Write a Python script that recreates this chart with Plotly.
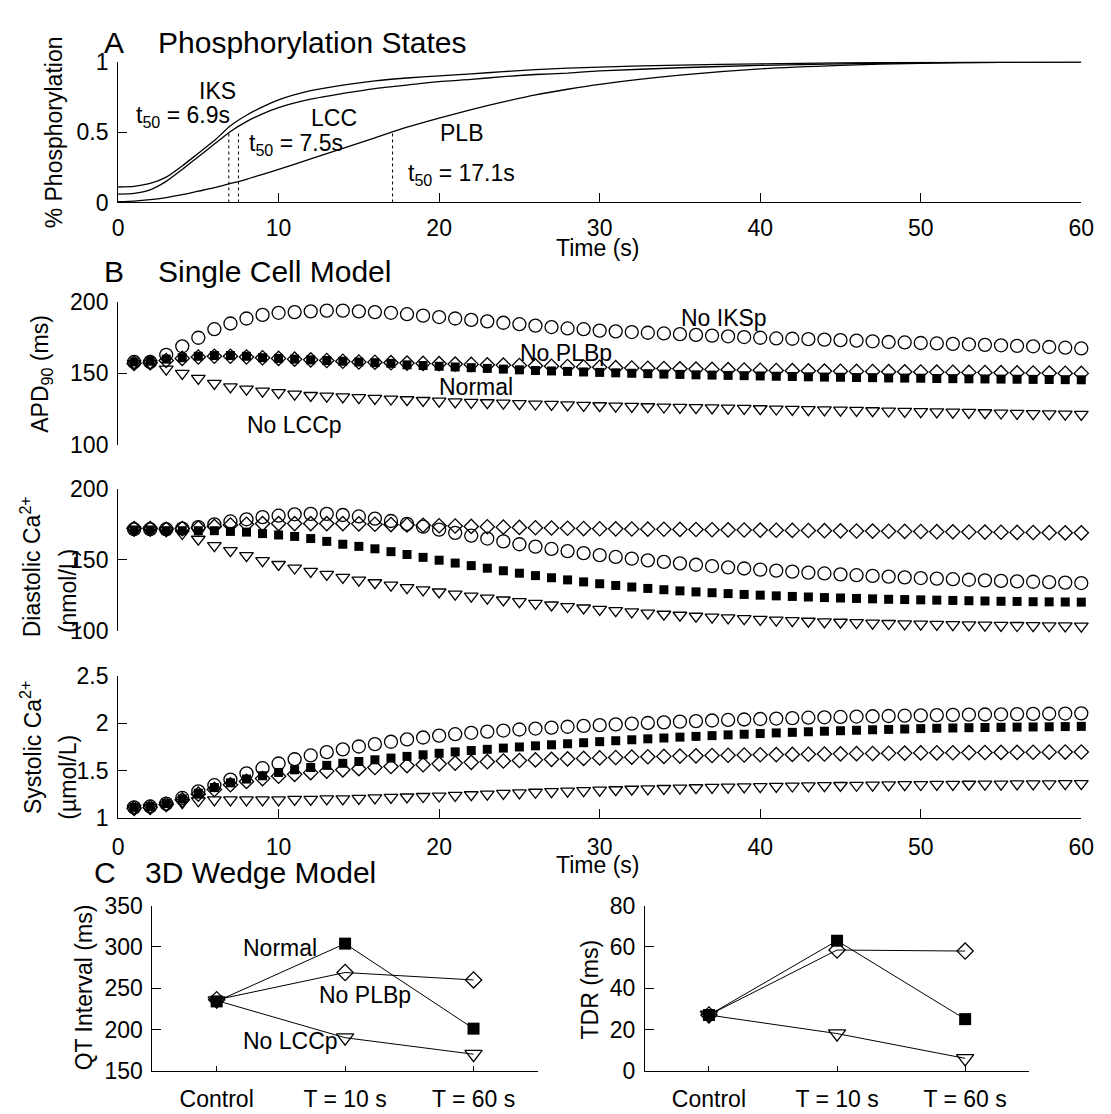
import plotly.graph_objects as go

W, H = 1111, 1114
FONT = "Liberation Sans, Arial, Helvetica, sans-serif"

# ---------------- Panel A: phosphorylation time courses ----------------
phos_t = [0, 1, 2, 3, 4, 5, 6, 7, 8, 9, 10, 12, 14, 16, 18, 20, 22, 24, 26, 28,
          30, 35, 40, 45, 50, 55, 60]
phos_iks = [0.11, 0.115, 0.135, 0.18, 0.26, 0.35, 0.44, 0.545, 0.62, 0.68, 0.73,
            0.795, 0.835, 0.865, 0.885, 0.90, 0.915, 0.93, 0.945, 0.955, 0.963,
            0.977, 0.986, 0.992, 0.996, 0.998, 1.0]
phos_lcc = [0.06, 0.065, 0.09, 0.15, 0.235, 0.325, 0.415, 0.505, 0.575, 0.63, 0.675,
            0.735, 0.775, 0.81, 0.835, 0.86, 0.875, 0.895, 0.91, 0.92, 0.935,
            0.958, 0.975, 0.986, 0.993, 0.997, 1.0]
phos_plb = [0.005, 0.01, 0.02, 0.035, 0.055, 0.08, 0.105, 0.135, 0.165, 0.2, 0.235,
            0.31, 0.385, 0.46, 0.535, 0.60, 0.66, 0.715, 0.765, 0.805, 0.84,
            0.905, 0.95, 0.975, 0.99, 0.997, 1.0]
t50_values = [6.9, 7.5, 17.1]
t50_level = 0.5

# ---------------- Panel B: single cell model, one beat per second ----------------
beat_t = list(range(1, 61))

apd_noiks = [158, 158, 163, 169, 175, 181, 185, 188.5, 191, 192.5, 193, 193.5, 194, 194,
             193.5, 193, 192.5, 191.5, 190.5, 189.5, 188.5, 187.5, 186.5, 185.5, 184.5,
             183.5, 182.5, 181.5, 181, 180, 179.5, 179, 178.5, 178, 177.5, 177, 176.5,
             176, 175.5, 175, 174.5, 174.3, 174, 173.7, 173.3, 173, 172.5, 172, 171.7,
             171.3, 171, 170.7, 170.4, 170, 169.7, 169.3, 169, 168.5, 168, 167.5]
apd_noplb = [157, 157.5, 159, 160.5, 161.5, 162, 162, 161.5, 161, 160.5, 160, 159.5, 159,
             158.5, 158, 157.8, 157.5, 157.2, 157, 156.8, 156.5, 156.3, 156, 155.8, 155.5,
             155.3, 155, 154.8, 154.5, 154.3, 154, 153.8, 153.6, 153.4, 153.2, 153, 152.8,
             152.6, 152.4, 152.2, 152, 151.9, 151.8, 151.6, 151.5, 151.4, 151.3, 151.2,
             151.1, 151, 150.9, 150.8, 150.7, 150.6, 150.5, 150.4, 150.3, 150.2, 150.1, 150]
apd_normal = [158, 158.5, 160, 161, 162, 162.5, 162.5, 162, 161, 160.5, 160, 159.5, 159,
              158.5, 158, 157.5, 157, 156, 155.5, 155, 154.5, 154, 153.5, 153, 152.5, 152,
              151.7, 151.4, 151, 150.7, 150.4, 150.1, 149.8, 149.5, 149.3, 149, 148.8,
              148.6, 148.4, 148.2, 148, 147.8, 147.6, 147.4, 147.3, 147.1, 147, 146.8,
              146.7, 146.6, 146.4, 146.3, 146.2, 146.1, 146, 145.9, 145.8, 145.7, 145.6, 145.5]
apd_nolcc = [157, 157, 153, 150, 146.5, 143, 140.5, 139, 137.5, 136.5, 135.5, 134.5, 134,
             133.5, 133, 132.5, 132, 131.5, 131, 130.5, 130, 129.7, 129.4, 129.1, 128.8,
             128.5, 128.2, 127.9, 127.6, 127.3, 127, 126.8, 126.6, 126.4, 126.2, 126,
             125.8, 125.6, 125.4, 125.2, 125, 124.8, 124.6, 124.4, 124.2, 124, 123.8,
             123.6, 123.4, 123.2, 123, 122.8, 122.6, 122.4, 122.2, 122, 121.8, 121.6, 121.4, 121.2]

dia_noiks = [171.5, 171.5, 171.5, 172, 173, 175, 177, 178.5, 180, 181, 182, 182.3, 182.3,
             181.5, 180.5, 179, 177.3, 175.3, 173.3, 171.2, 169, 167, 165, 163, 161, 159.3,
             157.7, 156.2, 154.8, 153.4, 152.1, 150.9, 149.7, 148.6, 147.6, 146.6, 145.7,
             144.8, 144, 143.2, 142.5, 141.8, 141.1, 140.5, 139.9, 139.3, 138.8, 138.3,
             137.8, 137.3, 136.9, 136.5, 136.1, 135.7, 135.3, 135, 134.7, 134.4, 134.1, 133.8]
dia_noplb = [172, 172, 171.5, 172, 172.5, 173.5, 174.5, 175, 175.5, 175.5, 175.5, 175.5,
             175.5, 175.5, 175.3, 175, 174.8, 174.5, 174.3, 174, 173.8, 173.5, 173.3, 173,
             172.8, 172.6, 172.4, 172.2, 172, 171.9, 171.8, 171.7, 171.6, 171.5, 171.4,
             171.3, 171.2, 171.1, 171, 170.9, 170.8, 170.7, 170.6, 170.5, 170.4, 170.3,
             170.2, 170.1, 170, 169.9, 169.8, 169.7, 169.6, 169.5, 169.4, 169.3, 169.2,
             169.1, 169, 169]
dia_normal = [171, 171, 170.5, 170.5, 170.5, 170.5, 170, 169.5, 168.5, 167.5, 166.5, 165,
              163, 161, 159.5, 157.8, 155.8, 153.8, 151.8, 149.8, 147.8, 146, 144.2, 142.4,
              140.7, 139, 137.5, 136, 134.6, 133.3, 132.1, 131, 130, 129.1, 128.3, 127.6,
              127, 126.4, 125.8, 125.3, 124.8, 124.4, 124, 123.6, 123.3, 123, 122.7, 122.4,
              122.2, 122, 121.8, 121.6, 121.4, 121.2, 121, 120.9, 120.7, 120.6, 120.5, 120.4]
dia_nolcc = [171, 171, 170.5, 168.5, 164.5, 160, 156.5, 153, 149.5, 146.8, 144.3, 142,
             139.8, 137.7, 135.8, 134, 132.3, 130.6, 129, 127.5, 126, 124.6, 123.2, 121.9,
             120.7, 119.5, 118.4, 117.3, 116.3, 115.3, 114.4, 113.5, 112.7, 111.9, 111.2,
             110.5, 109.9, 109.3, 108.8, 108.3, 107.8, 107.4, 107, 106.6, 106.3, 106,
             105.7, 105.4, 105.2, 105, 104.8, 104.6, 104.4, 104.3, 104.1, 104, 103.9,
             103.8, 103.7, 103.6]

sys_noiks = [1.11, 1.12, 1.15, 1.21, 1.28, 1.345, 1.405, 1.47, 1.525, 1.575, 1.62, 1.66,
             1.695, 1.725, 1.755, 1.78, 1.805, 1.83, 1.85, 1.87, 1.885, 1.9, 1.912, 1.924,
             1.935, 1.945, 1.955, 1.964, 1.973, 1.981, 1.989, 1.997, 2.004, 2.011, 2.018,
             2.024, 2.03, 2.036, 2.041, 2.046, 2.051, 2.056, 2.06, 2.064, 2.068, 2.072,
             2.075, 2.078, 2.081, 2.084, 2.087, 2.09, 2.092, 2.094, 2.096, 2.098, 2.1,
             2.102, 2.104, 2.106]
sys_noplb = [1.1, 1.11, 1.14, 1.19, 1.25, 1.3, 1.35, 1.385, 1.415, 1.44, 1.46, 1.478,
             1.494, 1.508, 1.52, 1.532, 1.543, 1.553, 1.562, 1.571, 1.579, 1.587, 1.594,
             1.601, 1.607, 1.613, 1.619, 1.624, 1.629, 1.634, 1.638, 1.642, 1.646, 1.65,
             1.653, 1.656, 1.659, 1.662, 1.665, 1.667, 1.669, 1.671, 1.673, 1.675, 1.677,
             1.679, 1.681, 1.683, 1.685, 1.687, 1.688, 1.689, 1.69, 1.691, 1.692, 1.693,
             1.694, 1.695, 1.696, 1.697]
sys_normal = [1.11, 1.12, 1.15, 1.2, 1.26, 1.32, 1.37, 1.41, 1.445, 1.48, 1.508, 1.532,
              1.555, 1.577, 1.596, 1.614, 1.632, 1.65, 1.667, 1.683, 1.698, 1.712, 1.725,
              1.738, 1.75, 1.762, 1.773, 1.784, 1.795, 1.806, 1.816, 1.826, 1.836, 1.845,
              1.854, 1.862, 1.87, 1.878, 1.885, 1.892, 1.899, 1.905, 1.911, 1.917, 1.922,
              1.927, 1.932, 1.936, 1.94, 1.944, 1.948, 1.951, 1.954, 1.956, 1.958, 1.96,
              1.962, 1.964, 1.966, 1.968]
sys_nolcc = [1.1, 1.11, 1.13, 1.16, 1.18, 1.19, 1.19, 1.19, 1.19, 1.19, 1.195, 1.195, 1.2,
             1.2, 1.205, 1.21, 1.215, 1.22, 1.225, 1.23, 1.237, 1.244, 1.251, 1.258, 1.264,
             1.27, 1.276, 1.282, 1.287, 1.292, 1.297, 1.302, 1.306, 1.31, 1.314, 1.318,
             1.321, 1.324, 1.327, 1.33, 1.333, 1.336, 1.338, 1.34, 1.342, 1.344, 1.346,
             1.348, 1.35, 1.352, 1.353, 1.354, 1.355, 1.356, 1.357, 1.358, 1.359, 1.36,
             1.361, 1.362]

# ---------------- Panel C: 3D wedge model ----------------
wedge_labels = ["Control", "T = 10 s", "T = 60 s"]
wedge_pos = [1, 2, 3]
qt_normal = [234, 304, 201]
qt_noplb = [236, 269, 260]
qt_nolcc = [235, 190, 170]
tdr_normal = [27, 63, 25]
tdr_noplb = [27, 58.5, 58]
tdr_nolcc = [27, 18, 6]


def px_x(x):
    return x / W


def px_y(y):
    return 1 - y / H


fig = go.Figure()

# Panel A curves
for ys in (phos_iks, phos_lcc, phos_plb):
    fig.add_trace(go.Scatter(x=phos_t, y=ys, mode="lines", xaxis="x", yaxis="y",
                             line=dict(color="black", width=1.3, shape="spline", smoothing=0.6),
                             hoverinfo="skip"))
for t in t50_values:
    fig.add_trace(go.Scatter(x=[t, t], y=[0, t50_level], mode="lines", xaxis="x", yaxis="y",
                             line=dict(color="black", width=1, dash="dot"), hoverinfo="skip"))

# marker styles for the four conditions
STY = {
    "noiks": dict(symbol="circle-open", size=13, color="black", line=dict(color="black", width=1.3)),
    "noplb": dict(symbol="diamond-open", size=11, color="black", line=dict(color="black", width=1.3)),
    "normal": dict(symbol="square", size=9, color="black", line=dict(color="black", width=0)),
    "nolcc": dict(symbol="triangle-down-open", size=12, color="black", line=dict(color="black", width=1.3)),
}

panels_b = [
    ("x2", "y2", dict(noiks=apd_noiks, noplb=apd_noplb, normal=apd_normal, nolcc=apd_nolcc)),
    ("x3", "y3", dict(noiks=dia_noiks, noplb=dia_noplb, normal=dia_normal, nolcc=dia_nolcc)),
    ("x4", "y4", dict(noiks=sys_noiks, noplb=sys_noplb, normal=sys_normal, nolcc=sys_nolcc)),
]
for xa, ya, series in panels_b:
    for key in ("noiks", "noplb", "normal", "nolcc"):
        fig.add_trace(go.Scatter(x=beat_t, y=series[key], mode="markers", xaxis=xa, yaxis=ya,
                                 marker=STY[key], cliponaxis=False, hoverinfo="skip"))

# Panel C
C_STY = {
    "nolcc": dict(symbol="triangle-down-open", size=15, color="black", line=dict(color="black", width=1.3)),
    "noplb": dict(symbol="diamond-open", size=12.5, color="black", line=dict(color="black", width=1.3)),
    "normal": dict(symbol="square", size=12, color="black", line=dict(color="black", width=0)),
}
for xa, ya, series in (("x5", "y5", dict(nolcc=qt_nolcc, noplb=qt_noplb, normal=qt_normal)),
                       ("x6", "y6", dict(nolcc=tdr_nolcc, noplb=tdr_noplb, normal=tdr_normal))):
    for key in ("nolcc", "noplb", "normal"):
        fig.add_trace(go.Scatter(x=wedge_pos, y=series[key], mode="lines+markers", xaxis=xa, yaxis=ya,
                                 line=dict(color="black", width=1), marker=C_STY[key],
                                 cliponaxis=False, hoverinfo="skip"))


def ax(**kw):
    base = dict(showgrid=False, zeroline=False, showline=True, linecolor="black", linewidth=1,
                ticks="inside", ticklen=9, tickwidth=1, tickcolor="black",
                tickfont=dict(family=FONT, size=23, color="black"), fixedrange=True)
    base.update(kw)
    return base


xdom_time = [px_x(114), px_x(1094)]
time_ticks = [0, 10, 20, 30, 40, 50, 60]
hidden_x = dict(showline=False, ticks="", showticklabels=False)

fig.update_layout(
    width=W, height=H, margin=dict(l=0, r=0, t=0, b=0),
    paper_bgcolor="white", plot_bgcolor="white", showlegend=False,
    font=dict(family=FONT, size=23, color="black"),
    xaxis=ax(domain=xdom_time, range=[0, 60], anchor="y", tickvals=time_ticks, ticklabelstandoff=5),
    yaxis=ax(domain=[px_y(194), px_y(50)], range=[0, 1], anchor="x", tickvals=[0, 0.5, 1],
             ticktext=["0", "0.5", "1"], ticklabelstandoff=4),
    xaxis2=ax(domain=xdom_time, range=[0, 60], anchor="y2", **hidden_x),
    yaxis2=ax(domain=[px_y(442), px_y(296)], range=[100, 200], anchor="x2",
              tickvals=[100, 150, 200], ticklabelstandoff=4),
    xaxis3=ax(domain=xdom_time, range=[0, 60], anchor="y3", **hidden_x),
    yaxis3=ax(domain=[px_y(633), px_y(487)], range=[100, 200], anchor="x3",
              tickvals=[100, 150, 200], ticklabelstandoff=4),
    xaxis4=ax(domain=xdom_time, range=[0, 60], anchor="y4", tickvals=time_ticks, ticklabelstandoff=9),
    yaxis4=ax(domain=[px_y(824), px_y(679)], range=[1, 2.5], anchor="x4",
              tickvals=[1, 1.5, 2, 2.5], ticktext=["1", "1.5", "2", "2.5"], ticklabelstandoff=4),
    xaxis5=ax(domain=[px_x(149), px_x(541)], range=[0.5, 3.5], anchor="y5", tickvals=wedge_pos,
              ticktext=wedge_labels, ticklen=5, ticklabelstandoff=8),
    yaxis5=ax(domain=[px_y(1083), px_y(914)], range=[150, 350], anchor="x5",
              tickvals=[150, 200, 250, 300, 350], ticklabelstandoff=4),
    xaxis6=ax(domain=[px_x(650), px_x(1041)], range=[0.5, 3.5], anchor="y6", tickvals=wedge_pos,
              ticktext=wedge_labels, ticklen=5, ticklabelstandoff=8),
    yaxis6=ax(domain=[px_y(1083), px_y(914)], range=[0, 80], anchor="x6",
              tickvals=[0, 20, 40, 60, 80], ticklabelstandoff=4),
)


def note(text, x, y, size=23, xanchor="center", yanchor="middle", angle=0):
    fig.add_annotation(text=text, x=px_x(x), y=px_y(y), xref="paper", yref="paper",
                       xanchor=xanchor, yanchor=yanchor, textangle=angle, showarrow=False,
                       font=dict(family=FONT, size=size, color="black"))


# panel headings
note("A", 98, 30, size=30, xanchor="left")
note("Phosphorylation States", 153, 30, size=30, xanchor="left")
note("B", 98, 265, size=30, xanchor="left")
note("Single Cell Model", 153, 265, size=30, xanchor="left")
note("C", 87, 880, size=30, xanchor="left")
note("3D Wedge Model", 139, 880, size=30, xanchor="left")

# axis titles
note("% Phosphorylation", 49, 122, angle=-90)
note("Time (s)", 602, 241)
note("APD<sub>90</sub> (ms)", 36, 369, angle=-90)
note("Diastolic Ca<sup>2+</sup>", 25, 567, angle=-90)
note("(nmol/L)", 63, 592, angle=-90)
note("Systolic Ca<sup>2+</sup>", 26, 752, angle=-90)
note("(µmol/L)", 63, 782, angle=-90)
note("Time (s)", 602, 872)
note("QT Interval (ms)", 79, 998, angle=-90)
note("TDR (ms)", 594, 1000, angle=-90)

# curve labels, panel A
note("IKS", 215, 80)
note("t<sub>50</sub> = 6.9s", 130, 106, xanchor="left")
note("LCC", 334, 108)
note("t<sub>50</sub> = 7.5s", 245, 135, xanchor="left")
note("PLB", 463, 123)
note("t<sub>50</sub> = 17.1s", 407, 165, xanchor="left")

# condition labels, panel B
note("No IKSp", 730, 312)
note("No PLBp", 570, 348)
note("Normal", 478, 383)
note("No LCCp", 294, 422)

# condition labels, panel C
note("Normal", 279, 957)
note("No PLBp", 365, 1005)
note("No LCCp", 289, 1053)

fig.write_html("out.html")
